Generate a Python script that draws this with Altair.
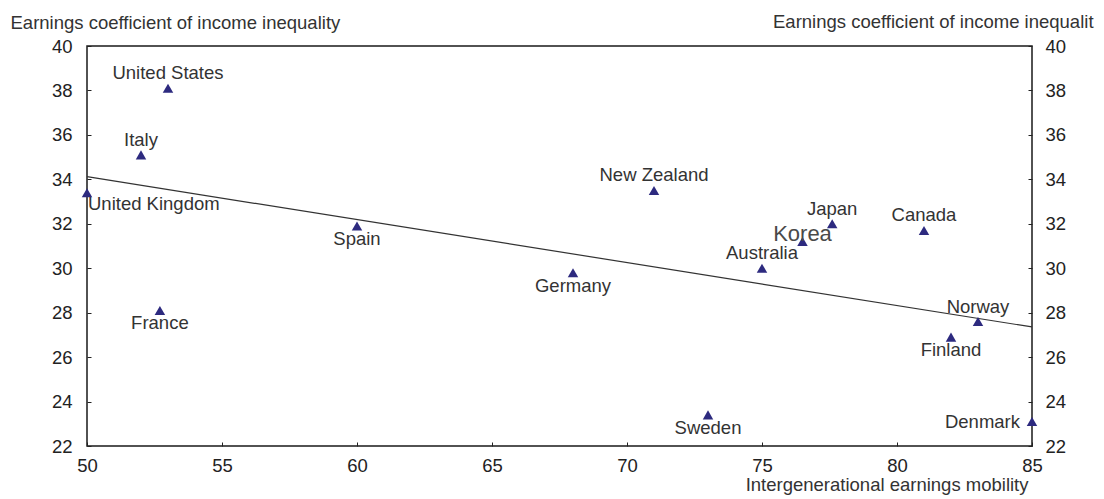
import altair as alt
import pandas as pd

countries = ["United States", "Italy", "United Kingdom", "France", "Spain", "Germany",
             "New Zealand", "Sweden", "Australia", "Korea", "Japan", "Canada",
             "Norway", "Finland", "Denmark"]
mobility = [53.0, 52.0, 50.0, 52.7, 60.0, 68.0, 71.0, 73.0, 75.0, 76.5, 77.6, 81.0, 83.0, 82.0, 85.0]
inequality = [38.1, 35.1, 33.4, 28.1, 31.9, 29.8, 33.5, 23.4, 30.0, 31.2, 32.0, 31.7, 27.6, 26.9, 23.1]

x_ticks = [50, 55, 60, 65, 70, 75, 80, 85]
y_ticks = [22, 24, 26, 28, 30, 32, 34, 36, 38, 40]

labels_above = ["United States", "Italy", "New Zealand", "Japan", "Canada", "Australia", "Norway"]
labels_below = ["Spain", "Germany", "France", "Sweden", "Finland"]
labels_right = ["United Kingdom"]
labels_left = ["Denmark"]
labels_big = ["Korea"]

x_title = "Intergenerational earnings mobility"
y_title = "Earnings coefficient of income inequality"

df = pd.DataFrame({"country": countries, "mobility": mobility, "inequality": inequality})

W, H = 945, 400
FONT = "Liberation Sans"
FS = 18.5

xscale = alt.Scale(domain=[50, 85], nice=False, zero=False)
yscale = alt.Scale(domain=[22, 40], nice=False, zero=False)

x_axis = alt.Axis(values=x_ticks, orient="bottom", offset=-4, tickSize=4, labelPadding=10,
                  domain=False, grid=False, labelFlush=False, labelOverlap=False,
                  title=x_title, titleAlign="right", titleBaseline="alphabetic",
                  titleX=941, titleY=48)
left_axis = alt.Axis(values=y_ticks, orient="left", offset=-4, tickSize=4, labelPadding=15,
                     domain=False, grid=False, labelFlush=False, labelOverlap=False,
                     title=y_title, titleAngle=0, titleAlign="left", titleBaseline="alphabetic",
                     titleX=-81, titleY=-18)
right_axis = alt.Axis(values=y_ticks, orient="right", offset=-4, tickSize=4, labelPadding=13,
                      domain=False, grid=False, labelFlush=False, labelOverlap=False, title=None)

base = alt.Chart(df)

trend = base.transform_regression("mobility", "inequality", extent=[50, 85]).mark_line(
    color="#333333", strokeWidth=1.2
).encode(
    x=alt.X("mobility:Q", scale=xscale, axis=x_axis),
    y=alt.Y("inequality:Q", scale=yscale, axis=left_axis),
)

points = base.mark_point(shape="triangle-up", filled=True, size=110, color="#2d2a7f", opacity=1).encode(
    x=alt.X("mobility:Q", scale=xscale, axis=None),
    y=alt.Y("inequality:Q", scale=yscale, axis=right_axis),
)


def label_layer(names, size=FS, color="#333333", **kw):
    return base.transform_filter(
        alt.FieldOneOfPredicate(field="country", oneOf=names)
    ).mark_text(font=FONT, fontSize=size, color=color, **kw).encode(
        x=alt.X("mobility:Q", scale=xscale, axis=None),
        y=alt.Y("inequality:Q", scale=yscale, axis=None),
        text="country:N",
    )


above = label_layer(labels_above, align="center", baseline="middle", dy=-15)
below = label_layer(labels_below, align="center", baseline="middle", dy=13)
right_lbl = label_layer(labels_right, align="left", baseline="middle", dx=1, dy=11)
left_lbl = label_layer(labels_left, align="right", baseline="middle", dx=-12, dy=0)
big_lbl = label_layer(labels_big, size=22, color="#4a4a4a", align="center", baseline="middle", dy=-8)

right_title = alt.Chart(pd.DataFrame({"t": [y_title]})).mark_text(
    align="left", baseline="alphabetic", font=FONT, fontSize=FS, color="#333333",
    limit=326, ellipsis="\u200b"
).encode(x=alt.value(686), y=alt.value(-18), text="t:N")

chart = alt.layer(
    trend, points, above, below, right_lbl, left_lbl, big_lbl, right_title
).resolve_axis(x="independent", y="independent").properties(
    width=W, height=H,
    padding={"left": 79, "top": 38, "right": 64, "bottom": 50},
    autosize=alt.AutoSizeParams(type="none"),
    background="white",
).configure_view(
    stroke="#1a1a1a", strokeWidth=1.5
).configure_axis(
    labelFont=FONT, labelFontSize=FS, labelColor="#222222", tickColor="#222222", tickWidth=1,
    titleFont=FONT, titleFontSize=FS, titleColor="#333333", titleFontWeight="normal",
)

chart.save("out.html", embed_options={"renderer": "svg", "actions": False})
